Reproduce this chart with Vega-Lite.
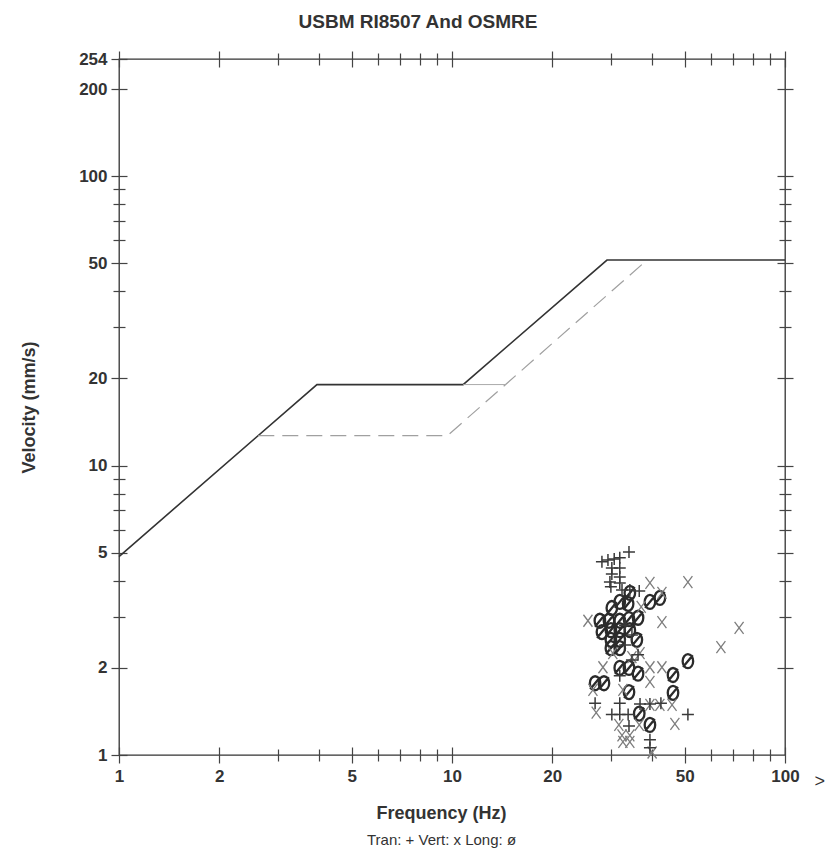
{
  "$schema": "https://vega.github.io/schema/vega-lite/v6.json",
  "width": 666,
  "height": 696,
  "autosize": {"type": "none"},
  "padding": {"left": 119, "top": 59, "right": 51, "bottom": 101},
  "background": "white",
  "title": {"text": "USBM RI8507 And OSMRE", "font": "Liberation Sans", "fontSize": 19, "fontWeight": "bold", "color": "#333", "frame": "group", "anchor": "middle", "dx": -34, "offset": 18},
  "config": {
    "view": {"stroke": "#333", "strokeWidth": 1.3},
    "axis": {"domain": false, "grid": false, "tickColor": "#444", "tickWidth": 1.2, "labelFont": "Liberation Sans", "labelFontSize": 17, "labelFontWeight": "bold", "labelColor": "#333", "titleFont": "Liberation Sans", "titleColor": "#333", "labelFlush": false, "labelOverlap": false}
  },
  "datasets": {
    "lines": [
      {"series": "USBM", "f": 1, "v": 4.85},
      {"series": "USBM", "f": 3.93, "v": 19.05},
      {"series": "USBM", "f": 10.8, "v": 19.05},
      {"series": "USBM", "f": 29.2, "v": 51.3},
      {"series": "USBM", "f": 100, "v": 51.3},
      {"series": "OSMRE", "f": 2.62, "v": 12.7},
      {"series": "OSMRE", "f": 9.7, "v": 12.7},
      {"series": "OSMRE", "f": 38.5, "v": 51.3},
      {"series": "link", "f": 10.8, "v": 19.05},
      {"series": "link", "f": 14.5, "v": 19.05}
    ],
    "points": [
      {"type": "Tran", "f": 34.0, "v": 5.03},
      {"type": "Tran", "f": 28.2, "v": 4.65},
      {"type": "Tran", "f": 29.4, "v": 4.72},
      {"type": "Tran", "f": 30.7, "v": 4.76},
      {"type": "Tran", "f": 31.9, "v": 4.80},
      {"type": "Tran", "f": 30.2, "v": 4.43},
      {"type": "Tran", "f": 31.9, "v": 4.43},
      {"type": "Tran", "f": 30.2, "v": 4.22},
      {"type": "Tran", "f": 31.9, "v": 4.12},
      {"type": "Tran", "f": 29.8, "v": 3.96},
      {"type": "Tran", "f": 31.9, "v": 3.93},
      {"type": "Tran", "f": 30.0, "v": 3.81},
      {"type": "Tran", "f": 32.4, "v": 3.72},
      {"type": "Tran", "f": 34.2, "v": 3.72},
      {"type": "Tran", "f": 36.5, "v": 3.69},
      {"type": "Tran", "f": 33.1, "v": 2.81},
      {"type": "Tran", "f": 34.7, "v": 2.60},
      {"type": "Tran", "f": 33.1, "v": 2.40},
      {"type": "Tran", "f": 34.7, "v": 2.13},
      {"type": "Tran", "f": 36.2, "v": 2.22},
      {"type": "Tran", "f": 31.9, "v": 1.88},
      {"type": "Tran", "f": 26.9, "v": 1.51},
      {"type": "Tran", "f": 31.9, "v": 1.51},
      {"type": "Tran", "f": 36.7, "v": 1.50},
      {"type": "Tran", "f": 39.3, "v": 1.50},
      {"type": "Tran", "f": 42.4, "v": 1.51},
      {"type": "Tran", "f": 30.2, "v": 1.38},
      {"type": "Tran", "f": 31.9, "v": 1.38},
      {"type": "Tran", "f": 33.8, "v": 1.38},
      {"type": "Tran", "f": 34.0, "v": 1.26},
      {"type": "Tran", "f": 51.1, "v": 1.38},
      {"type": "Tran", "f": 39.3, "v": 1.13},
      {"type": "Tran", "f": 39.3, "v": 1.06},
      {"type": "Vert", "f": 39.3, "v": 3.93},
      {"type": "Vert", "f": 42.7, "v": 3.63},
      {"type": "Vert", "f": 51.1, "v": 3.96},
      {"type": "Vert", "f": 25.6, "v": 2.91},
      {"type": "Vert", "f": 42.7, "v": 2.88},
      {"type": "Vert", "f": 72.8, "v": 2.75},
      {"type": "Vert", "f": 64.2, "v": 2.36},
      {"type": "Vert", "f": 30.4, "v": 2.25},
      {"type": "Vert", "f": 36.7, "v": 2.25},
      {"type": "Vert", "f": 28.4, "v": 2.01},
      {"type": "Vert", "f": 39.3, "v": 2.01},
      {"type": "Vert", "f": 42.7, "v": 2.01},
      {"type": "Vert", "f": 39.3, "v": 1.79},
      {"type": "Vert", "f": 26.5, "v": 1.68},
      {"type": "Vert", "f": 27.1, "v": 1.40},
      {"type": "Vert", "f": 39.3, "v": 1.49},
      {"type": "Vert", "f": 42.1, "v": 1.49},
      {"type": "Vert", "f": 45.8, "v": 1.49},
      {"type": "Vert", "f": 46.7, "v": 1.28},
      {"type": "Vert", "f": 31.7, "v": 1.27},
      {"type": "Vert", "f": 36.5, "v": 1.27},
      {"type": "Vert", "f": 32.4, "v": 1.17},
      {"type": "Vert", "f": 34.2, "v": 1.17},
      {"type": "Vert", "f": 32.6, "v": 1.11},
      {"type": "Vert", "f": 34.2, "v": 1.11},
      {"type": "Vert", "f": 39.9, "v": 1.02},
      {"type": "Vert", "f": 37.0, "v": 3.25},
      {"type": "Vert", "f": 34.7, "v": 2.18},
      {"type": "Vert", "f": 32.6, "v": 1.68},
      {"type": "Long", "f": 34.2, "v": 3.63},
      {"type": "Long", "f": 31.9, "v": 3.38},
      {"type": "Long", "f": 33.8, "v": 3.33},
      {"type": "Long", "f": 30.2, "v": 3.22},
      {"type": "Long", "f": 39.3, "v": 3.38},
      {"type": "Long", "f": 42.1, "v": 3.49},
      {"type": "Long", "f": 27.8, "v": 2.91},
      {"type": "Long", "f": 29.6, "v": 2.91},
      {"type": "Long", "f": 31.9, "v": 2.91},
      {"type": "Long", "f": 34.0, "v": 2.95},
      {"type": "Long", "f": 36.2, "v": 2.98},
      {"type": "Long", "f": 28.2, "v": 2.66},
      {"type": "Long", "f": 30.0, "v": 2.70},
      {"type": "Long", "f": 31.9, "v": 2.70},
      {"type": "Long", "f": 34.2, "v": 2.70},
      {"type": "Long", "f": 30.0, "v": 2.50},
      {"type": "Long", "f": 31.9, "v": 2.50},
      {"type": "Long", "f": 35.9, "v": 2.50},
      {"type": "Long", "f": 30.0, "v": 2.34},
      {"type": "Long", "f": 31.9, "v": 2.34},
      {"type": "Long", "f": 51.1, "v": 2.11},
      {"type": "Long", "f": 31.9, "v": 2.00},
      {"type": "Long", "f": 34.0, "v": 2.00},
      {"type": "Long", "f": 36.2, "v": 1.91},
      {"type": "Long", "f": 46.1, "v": 1.89},
      {"type": "Long", "f": 26.9, "v": 1.77},
      {"type": "Long", "f": 28.6, "v": 1.77},
      {"type": "Long", "f": 34.0, "v": 1.65},
      {"type": "Long", "f": 46.1, "v": 1.64},
      {"type": "Long", "f": 36.5, "v": 1.39},
      {"type": "Long", "f": 39.3, "v": 1.27}
    ]
  },
  "resolve": {"axis": {"x": "independent", "y": "independent"}},
  "layer": [
    {
      "data": {"name": "lines"},
      "transform": [{"filter": "datum.series == 'USBM'"}],
      "mark": {"type": "line", "color": "#333", "strokeWidth": 1.6},
      "encoding": {
        "x": {"field": "f", "type": "quantitative", "scale": {"type": "log", "domain": [1, 100], "nice": false},
              "axis": {"orient": "bottom", "values": [1, 2, 5, 10, 20, 50, 100], "format": "d", "offset": -8, "tickSize": 16, "labelPadding": 5, "title": "Frequency (Hz)", "titleFontSize": 18, "titleFontWeight": "bold", "titlePadding": 20, "titleX": 322}},
        "y": {"field": "v", "type": "quantitative", "scale": {"type": "log", "domain": [1, 254], "nice": false},
              "axis": {"orient": "left", "values": [1, 2, 5, 10, 20, 50, 100, 200, 254], "format": "d", "offset": -8, "tickSize": 16, "labelPadding": 4, "title": "Velocity (mm/s)", "titleFontSize": 18, "titleFontWeight": "bold", "titlePadding": 40}}
      }
    },
    {
      "data": {"name": "lines"},
      "transform": [{"filter": "datum.series == 'OSMRE'"}],
      "mark": {"type": "line", "color": "#a0a0a0", "strokeWidth": 1.2, "strokeDash": [16, 8]},
      "encoding": {
        "x": {"field": "f", "type": "quantitative", "scale": {"type": "log", "domain": [1, 100], "nice": false},
              "axis": {"orient": "bottom", "values": [3, 4, 6, 7, 8, 9, 30, 40, 60, 70, 80, 90], "labels": false, "offset": -6, "tickSize": 12, "title": "Tran: + Vert: x Long: ø", "titleFontSize": 15, "titleFontWeight": "normal", "titlePadding": 71, "titleX": 322}},
        "y": {"field": "v", "type": "quantitative", "scale": {"type": "log", "domain": [1, 254], "nice": false},
              "axis": {"orient": "left", "values": [3, 4, 6, 7, 8, 9, 30, 40, 60, 70, 80, 90], "labels": false, "offset": -6, "tickSize": 12, "title": null}}
      }
    },
    {
      "data": {"name": "lines"},
      "transform": [{"filter": "datum.series == 'link'"}],
      "mark": {"type": "line", "color": "#aaaaaa", "strokeWidth": 1},
      "encoding": {
        "x": {"field": "f", "type": "quantitative", "scale": {"type": "log", "domain": [1, 100], "nice": false},
              "axis": {"orient": "top", "values": [1, 2, 5, 10, 20, 50, 100], "labels": false, "offset": -8, "tickSize": 16, "title": null}},
        "y": {"field": "v", "type": "quantitative", "scale": {"type": "log", "domain": [1, 254], "nice": false},
              "axis": {"orient": "right", "values": [2, 5, 10, 20, 50, 100, 200], "labels": false, "offset": -8, "tickSize": 16, "title": null}}
      }
    },
    {
      "data": {"name": "points"},
      "transform": [{"filter": "datum.type == 'Long'"}],
      "mark": {"type": "point", "filled": false, "shape": "M0,-1C0.42,-1 0.75,-0.55 0.75,0C0.75,0.55 0.42,1 0,1C-0.42,1 -0.75,0.55 -0.75,0C-0.75,-0.55 -0.42,-1 0,-1ZM-0.7,0.85L0.7,-0.85", "size": 196, "stroke": "#2b2b2b", "strokeWidth": 2.3, "opacity": 1},
      "encoding": {
        "x": {"field": "f", "type": "quantitative", "scale": {"type": "log", "domain": [1, 100], "nice": false},
              "axis": {"orient": "top", "values": [3, 4, 6, 7, 8, 9, 30, 40, 60, 70, 80, 90], "labels": false, "offset": -6, "tickSize": 12, "title": ">", "titleFontSize": 18, "titleFontWeight": "normal", "titleX": 695, "titleY": 716, "titleAngle": 0, "titleAlign": "left", "titleBaseline": "middle"}},
        "y": {"field": "v", "type": "quantitative", "scale": {"type": "log", "domain": [1, 254], "nice": false},
              "axis": {"orient": "right", "values": [3, 4, 6, 7, 8, 9, 30, 40, 60, 70, 80, 90], "labels": false, "offset": -6, "tickSize": 12, "title": null}}
      }
    },
    {
      "data": {"name": "points"},
      "transform": [{"filter": "datum.type == 'Vert'"}],
      "mark": {"type": "point", "filled": false, "shape": "M-0.75,-1L0.75,1M-0.75,1L0.75,-1", "size": 144, "stroke": "#7d7d7d", "strokeWidth": 1.3, "opacity": 1},
      "encoding": {
        "x": {"field": "f", "type": "quantitative", "scale": {"type": "log", "domain": [1, 100], "nice": false}, "axis": null},
        "y": {"field": "v", "type": "quantitative", "scale": {"type": "log", "domain": [1, 254], "nice": false}, "axis": null}
      }
    },
    {
      "data": {"name": "points"},
      "transform": [{"filter": "datum.type == 'Tran'"}],
      "mark": {"type": "point", "filled": false, "shape": "M-1,0L1,0M0,-1L0,1", "size": 144, "stroke": "#3a3a3a", "strokeWidth": 1.5, "opacity": 1},
      "encoding": {
        "x": {"field": "f", "type": "quantitative", "scale": {"type": "log", "domain": [1, 100], "nice": false}, "axis": null},
        "y": {"field": "v", "type": "quantitative", "scale": {"type": "log", "domain": [1, 254], "nice": false}, "axis": null}
      }
    }
  ]
}
